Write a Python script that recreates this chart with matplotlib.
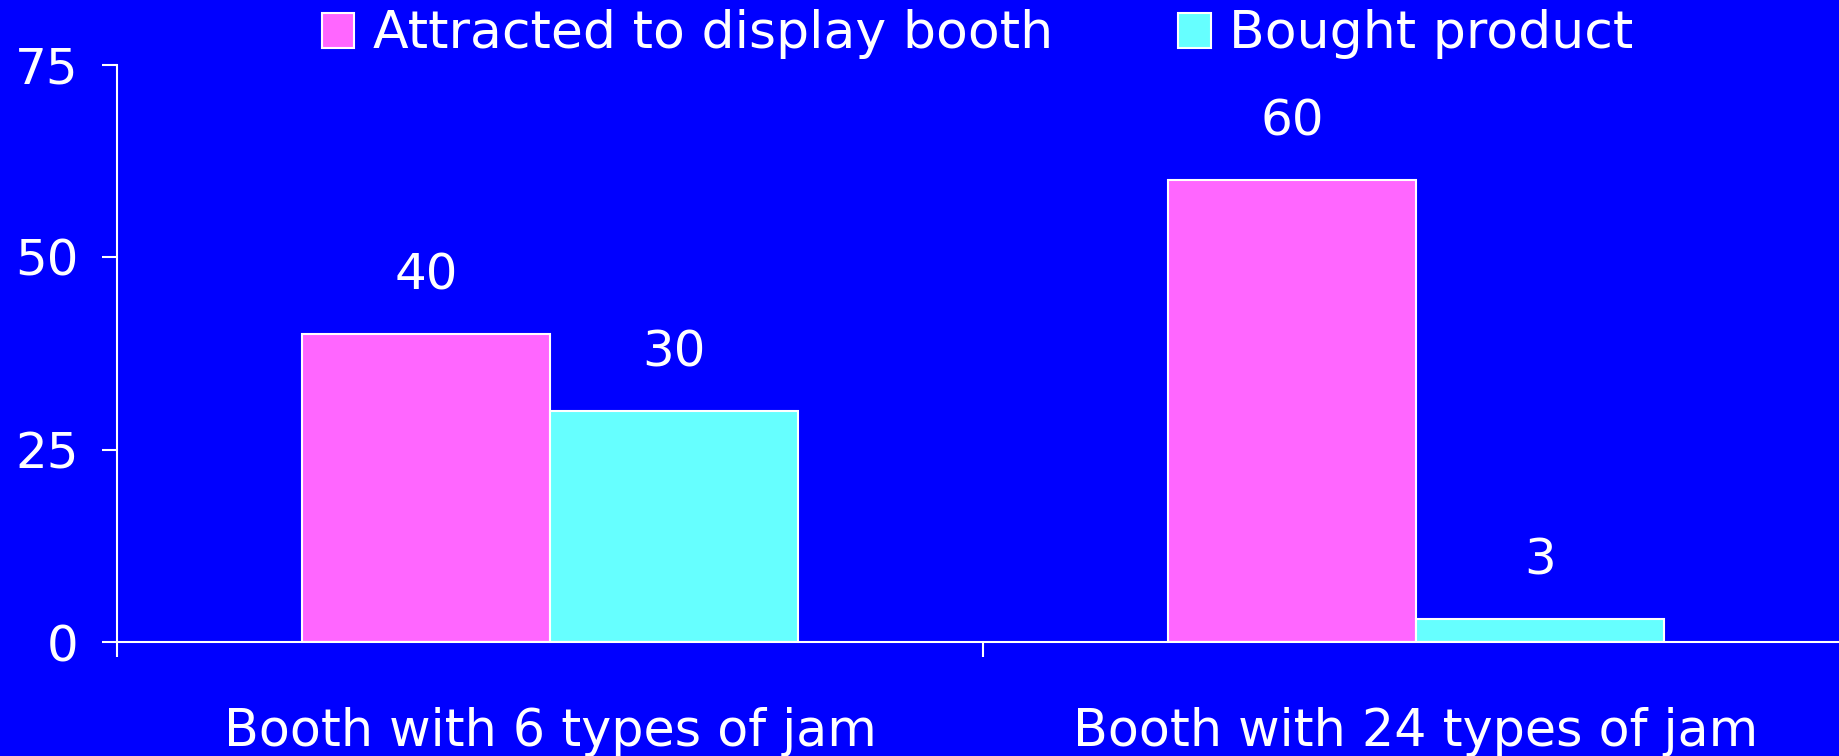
import numpy as np
import matplotlib as mpl
mpl.use('Agg')
import matplotlib.pyplot as plt
from matplotlib.patches import Patch

# data
categories = ["Booth with 6 types of jam", "Booth with 24 types of jam"]
series_names = ["Attracted to display booth", "Bought product"]
attracted = [40, 60]
bought = [30, 3]
yticks = [0, 25, 50, 75]

bg = "#0000FF"
pink = "#FF66FF"
cyan = "#66FFFF"
fs = 36

plt.rcParams['font.family'] = ['DejaVu Sans']

fig = plt.figure(figsize=(18.4, 7.56), dpi=100, facecolor=bg)
# axes runs a bit past the right edge like the original
ax = fig.add_axes([117/1840, 114/756, 1732/1840, 577.5/756])
ax.set_facecolor(bg)

x = np.arange(len(categories)) + 0.5
w = 0.286
b1 = ax.bar(x - w/2, attracted, w, color=pink, edgecolor="white", linewidth=1.5)
b2 = ax.bar(x + w/2, bought, w, color=cyan, edgecolor="white", linewidth=1.5)

for bars, vals in [(b1, attracted), (b2, bought)]:
    for r, v in zip(bars, vals):
        ax.annotate(str(v), (r.get_x() + r.get_width()/2, v), xytext=(0, 41.8),
                    textcoords="offset points", ha="center", va="center",
                    color="white", fontsize=fs)

ax.set_xlim(0, 2)
ax.set_ylim(0, 75)
ax.set_yticks(yticks)
ax.set_xticks([0, 1, 2])
ax.set_xticklabels([])
ax.set_xticks(x, minor=True)
ax.set_xticklabels(categories, minor=True)

for s in ["top", "right"]:
    ax.spines[s].set_visible(False)
for s in ["left", "bottom"]:
    ax.spines[s].set_color("white")
    ax.spines[s].set_linewidth(1.5)

ax.tick_params(axis="y", colors="white", labelsize=fs, length=10.8, width=1.5, pad=17)
ax.tick_params(axis="x", which="major", colors="white", length=10.8, width=1.5)
ax.tick_params(axis="x", which="minor", colors="white", labelsize=fs + 0.5, length=0, pad=47)

handles = [Patch(facecolor=pink, edgecolor="white", linewidth=1.5),
           Patch(facecolor=cyan, edgecolor="white", linewidth=1.5)]
ax.legend(handles, series_names, loc="center", bbox_to_anchor=(0.497, 1.052), ncol=2,
          frameon=False, fontsize=37.5, labelcolor="white", handlelength=0.62,
          handleheight=0.65, handletextpad=0.36, columnspacing=2.4, borderaxespad=0)

fig.savefig("out.png", dpi=100, facecolor=bg)
